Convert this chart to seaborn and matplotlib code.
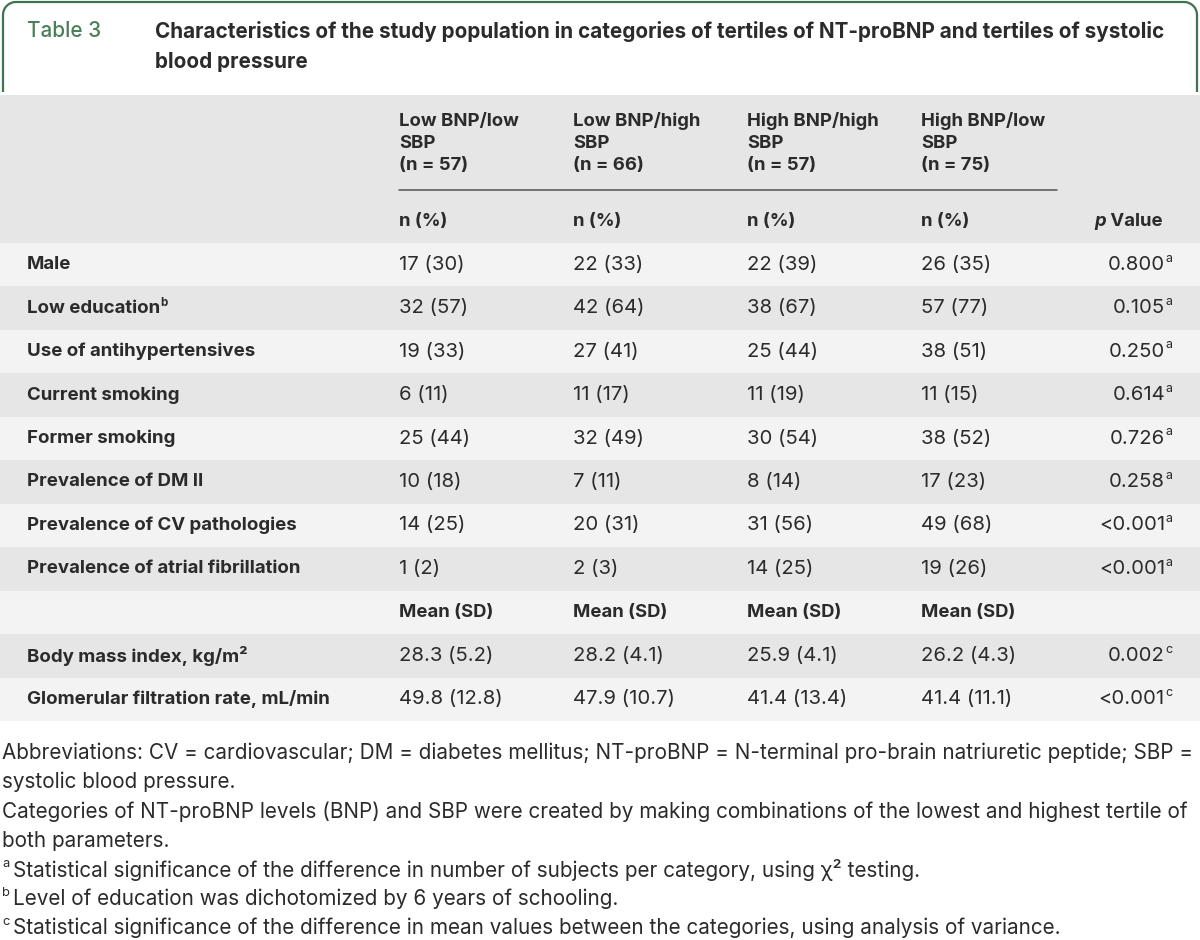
import numpy as np
import matplotlib
matplotlib.use("Agg")
import matplotlib.pyplot as plt
import seaborn as sns

# ---- table content ----
table_no = "Table 3"
title_lines = [
    "Characteristics of the study population in categories of tertiles of NT-proBNP and tertiles of systolic",
    "blood pressure",
]
groups = ["Low BNP/low\nSBP", "Low BNP/high\nSBP", "High BNP/high\nSBP", "High BNP/low\nSBP"]
group_n = [57, 66, 57, 75]

cat_labels = ["Male", "Low education", "Use of antihypertensives", "Current smoking",
              "Former smoking", "Prevalence of DM II", "Prevalence of CV pathologies",
              "Prevalence of atrial fibrillation"]
cat_label_sup = ["", "b", "", "", "", "", "", ""]
counts = [
    [17, 32, 19, 6, 25, 10, 14, 1],
    [22, 42, 27, 11, 32, 7, 20, 2],
    [22, 38, 25, 11, 30, 8, 31, 14],
    [26, 57, 38, 11, 38, 17, 49, 19],
]
pcts = [
    [30, 57, 33, 11, 44, 18, 25, 2],
    [33, 64, 41, 17, 49, 11, 31, 3],
    [39, 67, 44, 19, 54, 14, 56, 25],
    [35, 77, 51, 15, 52, 23, 68, 26],
]
cat_p = ["0.800", "0.105", "0.250", "0.614", "0.726", "0.258", "<0.001", "<0.001"]
cat_p_sup = "a"

cont_labels = ["Body mass index, kg/m²", "Glomerular filtration rate, mL/min"]
means = [[28.3, 49.8], [28.2, 47.9], [25.9, 41.4], [26.2, 41.4]]
sds = [[5.2, 12.8], [4.1, 10.7], [4.1, 13.4], [4.3, 11.1]]
cont_p = ["0.002", "<0.001"]
cont_p_sup = "c"

footnotes = [
    ("", "Abbreviations: CV = cardiovascular; DM = diabetes mellitus; NT-proBNP = N-terminal pro-brain natriuretic peptide; SBP ="),
    ("", "systolic blood pressure."),
    ("", "Categories of NT-proBNP levels (BNP) and SBP were created by making combinations of the lowest and highest tertile of"),
    ("", "both parameters."),
    ("a", "Statistical significance of the difference in number of subjects per category, using χ² testing."),
    ("b", "Level of education was dichotomized by 6 years of schooling."),
    ("c", "Statistical significance of the difference in mean values between the categories, using analysis of variance."),
]

# ---- style ----
sns.set_theme(style="white")
plt.rcParams["font.family"] = ["Inter", "DejaVu Sans"]
TXT = "#2b2b2b"
GREEN = "#3f7350"
DARK = "#e6e6e6"
LIGHT = "#f3f3f3"

fig = plt.figure(figsize=(12, 9.4), dpi=100)
ax = fig.add_axes([0, 0, 1, 1])
ax.set_xlim(0, 1200)
ax.set_ylim(940, 0)
ax.axis("off")
renderer = fig.canvas.get_renderer()


def fit(text, target, weight="normal"):
    # font size giving the reference pixel width
    a = ax.text(0, 0, text, fontsize=10, fontweight=weight)
    w = a.get_window_extent(renderer).width
    a.remove()
    return 10 * target / w


FS_TITLE = fit(title_lines[0], 1008, "bold")
FS_LAB = fit("Use of antihypertensives", 229, "bold")
FS_HEAD = fit("Low BNP/high", 126.7, "bold")
FS_VAL = fit("17 (30)", 65.7)
FS_FOOT = fit(footnotes[0][1], 1196)


def runs(x, y, parts, ha="left", size=13, weight="normal", color=TXT):
    # parts: list of (text, kind) kind: "n" normal, "s" superscript, "i" italic
    arts = []
    for t, kind in parts:
        kw = dict(fontsize=size, fontweight=weight, color=color, va="center", ha="left")
        yy = y
        if kind == "s":
            kw["fontsize"] = size * 0.62
            yy = y - size * 0.42
        if kind == "i":
            kw["fontstyle"] = "italic"
        a = ax.text(0, yy, t, **kw)
        arts.append(a)
    widths = [a.get_window_extent(renderer).width for a in arts]
    cur = x if ha == "left" else x - sum(widths)
    for a, w in zip(arts, widths):
        a.set_x(cur)
        cur += w


# title box with rounded top corners
r = 13
ang = np.linspace(np.pi, np.pi / 2, 20)
xs = [3] + list(3 + r + r * np.cos(ang)) + list(1197 - r - r * np.cos(ang[::-1])) + [1197]
ys = [92] + list(2 + r - r * np.sin(ang)) + list(2 + r - r * np.sin(ang[::-1])) + [92]
ax.plot(xs, ys, color=GREEN, lw=1.6, solid_capstyle="butt")

ax.text(27, 31, table_no, fontsize=fit(table_no, 74, "medium"), color="#4a7f5a",
        va="center", fontweight="medium")
for i, line in enumerate(title_lines):
    ax.text(155, 31 + i * 31, line, fontsize=FS_TITLE, color=TXT, va="center", fontweight="bold")

# header band
ax.axhspan(95, 242.5, color=DARK, lw=0)
col_x = [399, 573, 747, 921]
p_right = 1163
for gx, g, n in zip(col_x, groups, group_n):
    l1, l2 = g.split("\n")
    for j, t in enumerate([l1, l2, f"(n = {n})"]):
        ax.text(gx, 121 + j * 22.2, t, fontsize=FS_HEAD, fontweight="bold", color=TXT, va="center")
    ax.text(gx, 222, "n (%)", fontsize=FS_HEAD, fontweight="bold", color=TXT, va="center")
ax.plot([399, 1057], [189.5, 189.5], color="#555555", lw=1.1)
runs(p_right, 222, [("p", "i"), (" Value", "n")], ha="right", size=FS_HEAD, weight="bold")

# body rows
row_top = 243
row_h = 43.45
n_rows = len(cat_labels) + 1 + len(cont_labels)
for i in range(n_rows):
    ax.axhspan(row_top + i * row_h, row_top + (i + 1) * row_h,
               color=LIGHT if i % 2 == 0 else DARK, lw=0)


def yc(i):
    return row_top + (i + 0.5) * row_h


for i, lab in enumerate(cat_labels):
    parts = [(lab, "n")] + ([(cat_label_sup[i], "s")] if cat_label_sup[i] else [])
    runs(27, yc(i), parts, size=FS_LAB, weight="bold")
    for g in range(4):
        ax.text(col_x[g], yc(i), f"{counts[g][i]} ({pcts[g][i]})", fontsize=FS_VAL, color=TXT, va="center")
    runs(p_right + 9, yc(i), [(cat_p[i], "n"), (cat_p_sup, "s")], ha="right", size=FS_VAL)

k = len(cat_labels)
for g in range(4):
    ax.text(col_x[g], yc(k), "Mean (SD)", fontsize=FS_HEAD, fontweight="bold", color=TXT, va="center")

for j, lab in enumerate(cont_labels):
    i = k + 1 + j
    runs(27, yc(i), [(lab, "n")], size=FS_LAB, weight="bold")
    for g in range(4):
        ax.text(col_x[g], yc(i), f"{means[g][j]:.1f} ({sds[g][j]:.1f})", fontsize=FS_VAL, color=TXT, va="center")
    runs(p_right + 9, yc(i), [(cont_p[j], "n"), (cont_p_sup, "s")], ha="right", size=FS_VAL)

# footnotes
for i, (sup, text) in enumerate(footnotes):
    y = 753 + i * 29.2
    if sup:
        runs(2, y, [(sup, "s")], size=FS_FOOT)
        runs(13, y, [(text, "n")], size=FS_FOOT)
    else:
        runs(2, y, [(text, "n")], size=FS_FOOT)

fig.savefig("out.png", dpi=100)
